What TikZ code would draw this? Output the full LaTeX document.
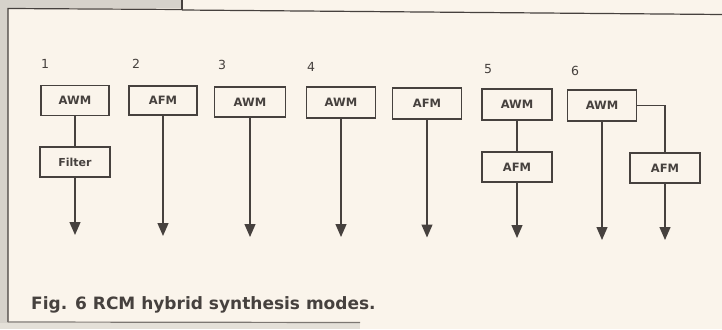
\documentclass[tikz,border=0pt]{standalone}
\usepackage{fontspec}
\setmainfont{DejaVu Sans}
\usetikzlibrary{arrows.meta}
\definecolor{paper}{HTML}{FAF4EB}
\definecolor{ink}{HTML}{46413E}
\definecolor{strip}{HTML}{D6D2CB}
\tikzset{
  box/.style={draw=ink, line width=1.5pt, fill=paper, minimum width=69pt, minimum height=30pt, inner sep=0pt, font=\bfseries\fontsize{11.5}{13}\selectfont, text=ink},
  num/.style={font=\fontsize{12.5}{14}\selectfont, text=ink, inner sep=0pt},
  ln/.style={draw=ink, line width=1.3pt},
  arr/.style={ln, -{Triangle[width=11pt,length=13pt]}},
  frame/.style={draw=ink, line width=1.2pt},
}
\begin{document}
\begin{tikzpicture}[x=1pt,y=-1pt]
\useasboundingbox (0,0) rectangle (722,329);
\fill[paper] (0,0) rectangle (722,329);
% scanned page edges
\fill[strip] (0,0) rectangle (182,8.5);
\fill[strip] (0,0) rectangle (7.5,329);
\fill[strip!60!paper] (0,322.5) rectangle (360,329);
\draw[frame] (8,322) -- (8,8.5) -- (182,9.5);
\draw[frame, line width=1.6pt] (182,0) -- (182,10.5);
\draw[frame] (182,10) -- (722,14.5);
\draw[frame, draw=ink!70!paper] (8,322) -- (360,322.5);

% mode numbers
\node[num] (n1) at (45,64) {1};
\node[num] (n2) at (136,64) {2};
\node[num] (n3) at (222,65) {3};
\node[num] (n4) at (311,67) {4};
\node[num] (n5) at (488,69.5) {5};
\node[num] (n6) at (575,70.5) {6};

% boxes
\node[box, minimum width=68pt] (a1) at (75,100.5) {AWM};
\node[box, minimum width=70pt, font=\bfseries\fontsize{11}{13}\selectfont] (f1) at (75,162) {Filter};
\node[box, minimum width=68pt, minimum height=29pt] (a2) at (163,100.5) {AFM};
\node[box, minimum width=71pt] (a3) at (250,102) {AWM};
\node[box, minimum height=31pt] (a4) at (341,102.5) {AWM};
\node[box, minimum height=31pt] (b4) at (427,103.5) {AFM};
\node[box, minimum width=70pt, minimum height=31pt] (a5) at (517,104.5) {AWM};
\node[box, minimum width=70pt] (b5) at (517,167) {AFM};
\node[box, minimum height=31pt] (a6) at (602,105.5) {AWM};
\node[box, minimum width=70pt] (b6) at (665,168) {AFM};

% free ends of the output arrows
\coordinate (e1) at (75,235);
\coordinate (e2) at (163,236);
\coordinate (e3) at (250,237);
\coordinate (e4) at (341,237);
\coordinate (e4b) at (427,237.5);
\coordinate (e5) at (517,238);
\coordinate (e6) at (602,240);
\coordinate (e6b) at (665,240);

% connectors
\draw[ln] (a1) -- (f1);
\draw[arr] (f1) -- (e1);
\draw[arr] (a2) -- (e2);
\draw[arr] (a3) -- (e3);
\draw[arr] (a4) -- (e4);
\draw[arr] (b4) -- (e4b);
\draw[ln] (a5) -- (b5);
\draw[arr] (b5) -- (e5);
\draw[arr] (a6) -- (e6);
\draw[ln] (a6.east) -| (b6.north);
\draw[arr] (b6) -- (e6b);

% caption
\node[anchor=base west, inner sep=0pt, font=\bfseries\fontsize{17}{19}\selectfont, text=ink] (cap) at (31,309) {Fig. 6 RCM hybrid synthesis modes.};
\end{tikzpicture}
\end{document}
